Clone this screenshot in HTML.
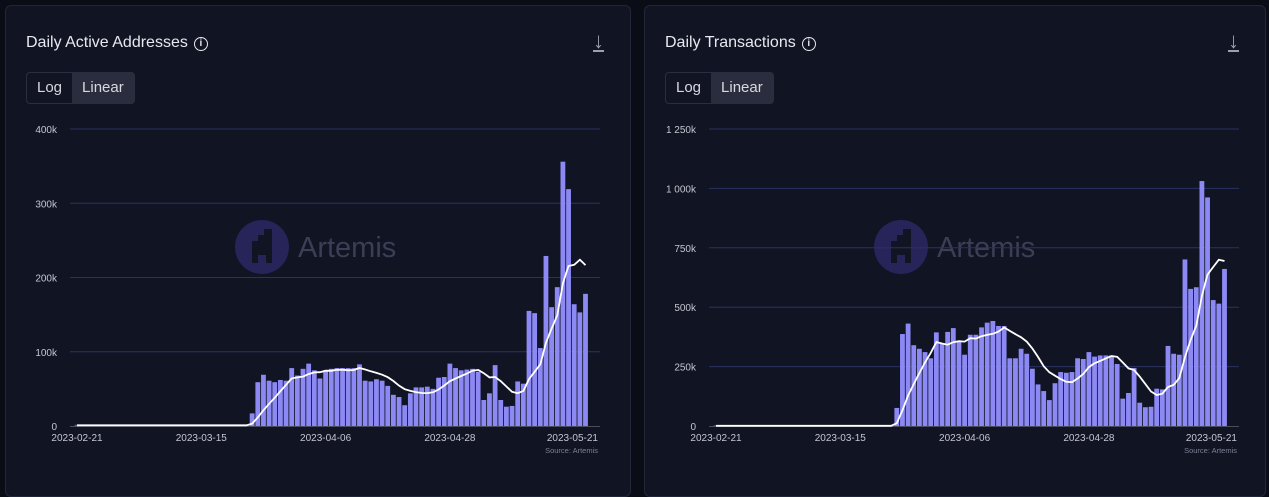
<!DOCTYPE html>
<html><head><meta charset="utf-8"><style>
body{margin:0;width:1269px;height:480px;background:#0a0c16;font-family:"Liberation Sans",sans-serif;overflow:hidden;position:relative}
.panel{position:absolute;top:5px;height:490px;background:#111423;border:1px solid #22263a;border-radius:6px}
.title{position:absolute;left:20px;top:28px;color:#e8e9ef;font-size:16px}
.info{display:inline-block;width:12px;height:12px;border:1.5px solid #e8e9ef;border-radius:50%;font-size:10px;text-align:center;line-height:12px;margin-left:6px;vertical-align:1px;font-weight:bold}
.dl{position:absolute;right:26px;top:26px;color:#9aa0b4;font-size:22px;border-bottom:2px solid #9aa0b4;line-height:18px}
.tog{position:absolute;left:20px;top:66px;height:30px;border:1px solid #2a2e40;border-radius:4px;display:flex;font-size:15px;color:#d8d9e0}
.tog div{padding:0 10px;line-height:30px}
.tog .on{background:#2a2d3d}
svg{position:absolute;left:0;top:0}
</style></head><body>
<div class="panel" style="left:5px;width:624px">
<div class="title">Daily Active Addresses<span class="info">i</span></div>
<div class="dl">↓</div>
<div class="tog"><div>Log</div><div class="on">Linear</div></div>
</div>
<div class="panel" style="left:644px;width:620px">
<div class="title">Daily Transactions<span class="info">i</span></div>
<div class="dl">↓</div>
<div class="tog"><div>Log</div><div class="on">Linear</div></div>
</div>
<svg id="chart" width="1269" height="480"></svg>
<script>
const xTickLabels=["2023-02-21","2023-03-15","2023-04-06","2023-04-28","2023-05-21"];
const xTickDays=[0,22,44,66,89];
const addrTicks=[0,100,200,300,400];
const addrTickLabels=["0","100k","200k","300k","400k"];
const addrStart=31;
const addrValues=[17,59,69,61,59,62,61,78,68,77,84,75,64,75,77,78,78,78,78,83,61,60,63,61,54,42,39,28,44,52,52,53,50,65,66,84,78,75,76,77,73,35,44,82,35,26,27,60,57,155,152,105,229,160,187,356,319,164,153,178];
const txTicks=[0,250,500,750,1000,1250];
const txTickLabels=["0","250k","500k","750k","1 000k","1 250k"];
const txStart=32;
const txValues=[76,387,431,340,325,311,285,394,345,396,412,355,300,384,384,415,435,442,421,421,285,285,325,304,241,175,147,109,180,227,224,227,285,282,311,292,297,297,297,261,115,139,244,98,79,81,157,154,337,304,300,701,577,584,1031,962,530,515,661];
const preValue=1;
const NS="http://www.w3.org/2000/svg";
const svg=document.getElementById('chart');
function mk(t,a,p){const e=document.createElementNS(NS,t);for(const k in a)e.setAttribute(k,a[k]);(p||svg).appendChild(e);return e;}
function draw(ox,ticks,tlabels,ymax,start,vals,name){
  const g=mk('g',{});
  
  
  const x=d=>ox+77+d*5.65, y=v=>426-v/ymax*297;
  const wm=mk('g',{},g);
  
  
  mk('circle',{cx:ox+262,cy:247,r:27,fill:'#27245a'},wm);
  mk('path',{d:`M${ox+252} ${263}v-22h6v-6h6v-6h8v34h-6v-8h-8v8z`,fill:'#111423'},wm);
  const wt=mk('text',{x:ox+298,y:257,fill:'#3b3e54','font-size':29},wm);wt.textContent='Artemis';
  ticks.forEach((t,i)=>{
    if(t>0){const l=mk('line',{x1:ox+70,x2:ox+600,y1:y(t),y2:y(t),stroke:'#2a3262','stroke-width':1},g);
    
    }
    const tx=mk('text',{x:ox+57,y:y(t)+4,fill:'#c4c6d0','font-size':10,'text-anchor':'end'},g);
    
    
    tx.textContent=tlabels[i];
  });
  const all=[];for(let d=0;d<start;d++)all.push(preValue);vals.forEach(v=>all.push(v));
  vals.forEach((v,i)=>{const d=start+i;
    const r=mk('rect',{x:x(d)-2.4,y:y(v),width:4.8,height:426-y(v),fill:'#8d89f4'},g);
    
    
  });
  for(let d=0;d<start;d++){const r=mk('rect',{x:x(d)-2.4,y:y(all[d])-0.5,width:4.8,height:426-y(all[d])+0.5,fill:'#5c5a9a'},g);
    
    }
  const bl=mk('line',{x1:ox+70,x2:ox+600,y1:426.5,y2:426.5,stroke:'#4a4d5e'},g);
  
  
  let pts=[];
  all.forEach((v,d)=>{let s=0,n=0;for(let k=Math.max(0,d-6);k<=d;k++){s+=all[k];n++;}pts.push(x(d).toFixed(1)+','+y(s/n).toFixed(1));});
  const pl=mk('polyline',{points:pts.join(' '),fill:'none',stroke:'#fff','stroke-width':1.8},g);
  
  
  xTickLabels.forEach((l,i)=>{
    const last=i===xTickLabels.length-1;
    const tx=mk('text',{x:last?ox+598:x(xTickDays[i]),y:441,fill:'#c4c6d0','font-size':10,'text-anchor':last?'end':'middle'},g);
    
    
    tx.textContent=l;
  });
  const src=mk('text',{x:ox+598,y:453,fill:'#7d8094','font-size':7.5,'text-anchor':'end'},g);
  
  
  src.textContent='Source: Artemis';
}
draw(0,addrTicks,addrTickLabels,400,addrStart,addrValues,'daily-active-addresses-chart');
draw(639,txTicks,txTickLabels,1250,txStart,txValues,'daily-transactions-chart');
</script>
</body></html>
